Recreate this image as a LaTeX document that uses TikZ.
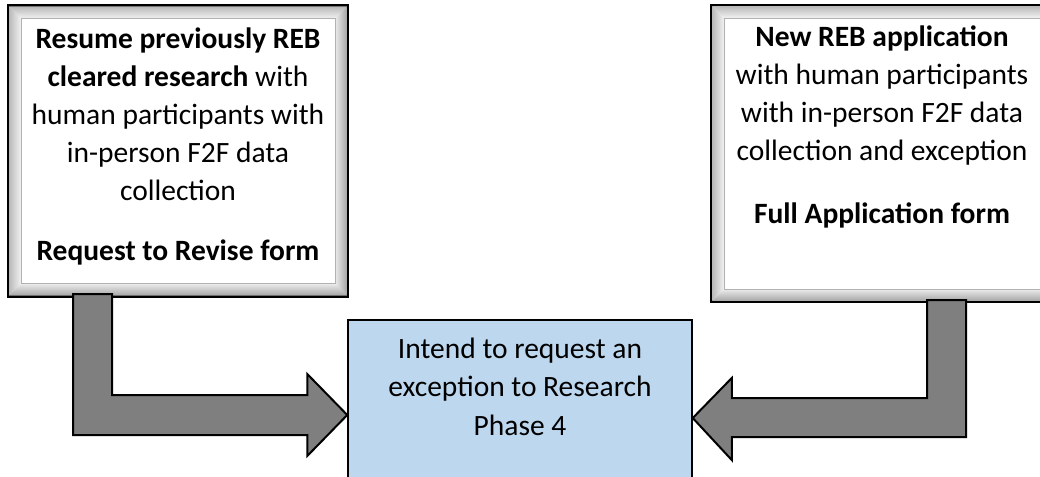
\documentclass[tikz,border=0pt]{standalone}
\usepackage{fontspec}
\setmainfont{Carlito}
\usetikzlibrary{calc}
\definecolor{arrowgray}{HTML}{7F7F7F}
\definecolor{paleblue}{HTML}{BDD7EE}
\tikzset{
  framebox/.style={draw=black, line width=2pt, fill=white, inner sep=0pt},
  blockarrow/.style={draw=black, line width=2pt, fill=arrowgray, line join=miter},
  centerbox/.style={draw=black, line width=1.5pt, fill=paleblue, inner sep=0pt},
  boxtext/.style={font=\fontsize{29.5}{38}\selectfont, align=center, inner sep=0pt},
}
\newcommand\bevelframe[1]{%
  \shade[top color=gray!55, bottom color=gray!10]
    ($(#1.north west)+(1,1)$) -- ($(#1.north east)+(-1,1)$) -- ($(#1.north east)+(-13,13)$) -- ($(#1.north west)+(13,13)$) -- cycle;
  \shade[left color=gray!55, right color=gray!10]
    ($(#1.north west)+(1,1)$) -- ($(#1.north west)+(13,13)$) -- ($(#1.south west)+(13,-13)$) -- ($(#1.south west)+(1,-1)$) -- cycle;
  \shade[top color=gray!15, bottom color=gray!70]
    ($(#1.south west)+(1,-1)$) -- ($(#1.south west)+(13,-13)$) -- ($(#1.south east)+(-13,-13)$) -- ($(#1.south east)+(-1,-1)$) -- cycle;
  \shade[left color=gray!15, right color=gray!70]
    ($(#1.north east)+(-1,1)$) -- ($(#1.south east)+(-1,-1)$) -- ($(#1.south east)+(-13,-13)$) -- ($(#1.north east)+(-13,13)$) -- cycle;
  \draw[gray!60, line width=0.6pt] ($(#1.north west)+(13,13)$) rectangle ($(#1.south east)+(-13,-13)$);
  \draw[black, line width=2pt] (#1.north west) rectangle (#1.south east);
}
\begin{document}
\begin{tikzpicture}[x=1pt, y=-1pt]
\clip (0,0) rectangle (1040,476);
\fill[white] (0,0) rectangle (1040,476);

% source boxes
\node[framebox, minimum width=338pt, minimum height=289pt] (L) at (178,151) {};
\bevelframe{L}
\node[framebox, minimum width=340pt, minimum height=295pt] (R) at (882,153.5) {};
\bevelframe{R}

% target box
\node[centerbox, minimum width=344pt, minimum height=180pt, anchor=north] (C) at (520,319) {};

% texts (anchor = baseline of the last line)
\node[boxtext, anchor=base] (Lt) at (178,260)
  {\textbf{Resume previously REB}\\ \textbf{cleared research} with\\ human participants with\\ in-person F2F data\\ collection\\[22pt] \textbf{Request to Revise form}};
\node[boxtext, anchor=base] (Rt) at (882,223)
  {\textbf{New REB application}\\ with human participants\\ with in-person F2F data\\ collection and exception\\[25pt] \textbf{Full Application form}};
\node[boxtext, font=\fontsize{29.5}{38.5}\selectfont, anchor=base] (Ct) at (520,435)
  {Intend to request an\\ exception to Research\\ Phase 4};

% block arrows
\coordinate (ltip) at (C.west |- 0,415);
\coordinate (rtip) at (C.east |- 0,418);
\draw[blockarrow]
  (73,294) -- (112,294) -- (112,395) -- ($(ltip)+(-40,-20)$) -- ($(ltip)+(-40,-41)$)
  -- (ltip) -- ($(ltip)+(-40,41)$) -- ($(ltip)+(-40,20)$) -- (73,435) -- cycle;
\draw[blockarrow]
  (927,300) -- (966,300) -- (966,437) -- ($(rtip)+(39,19)$) -- ($(rtip)+(39,42)$)
  -- (rtip) -- ($(rtip)+(39,-40)$) -- ($(rtip)+(39,-20)$) -- (927,398) -- cycle;
\end{tikzpicture}
\end{document}
